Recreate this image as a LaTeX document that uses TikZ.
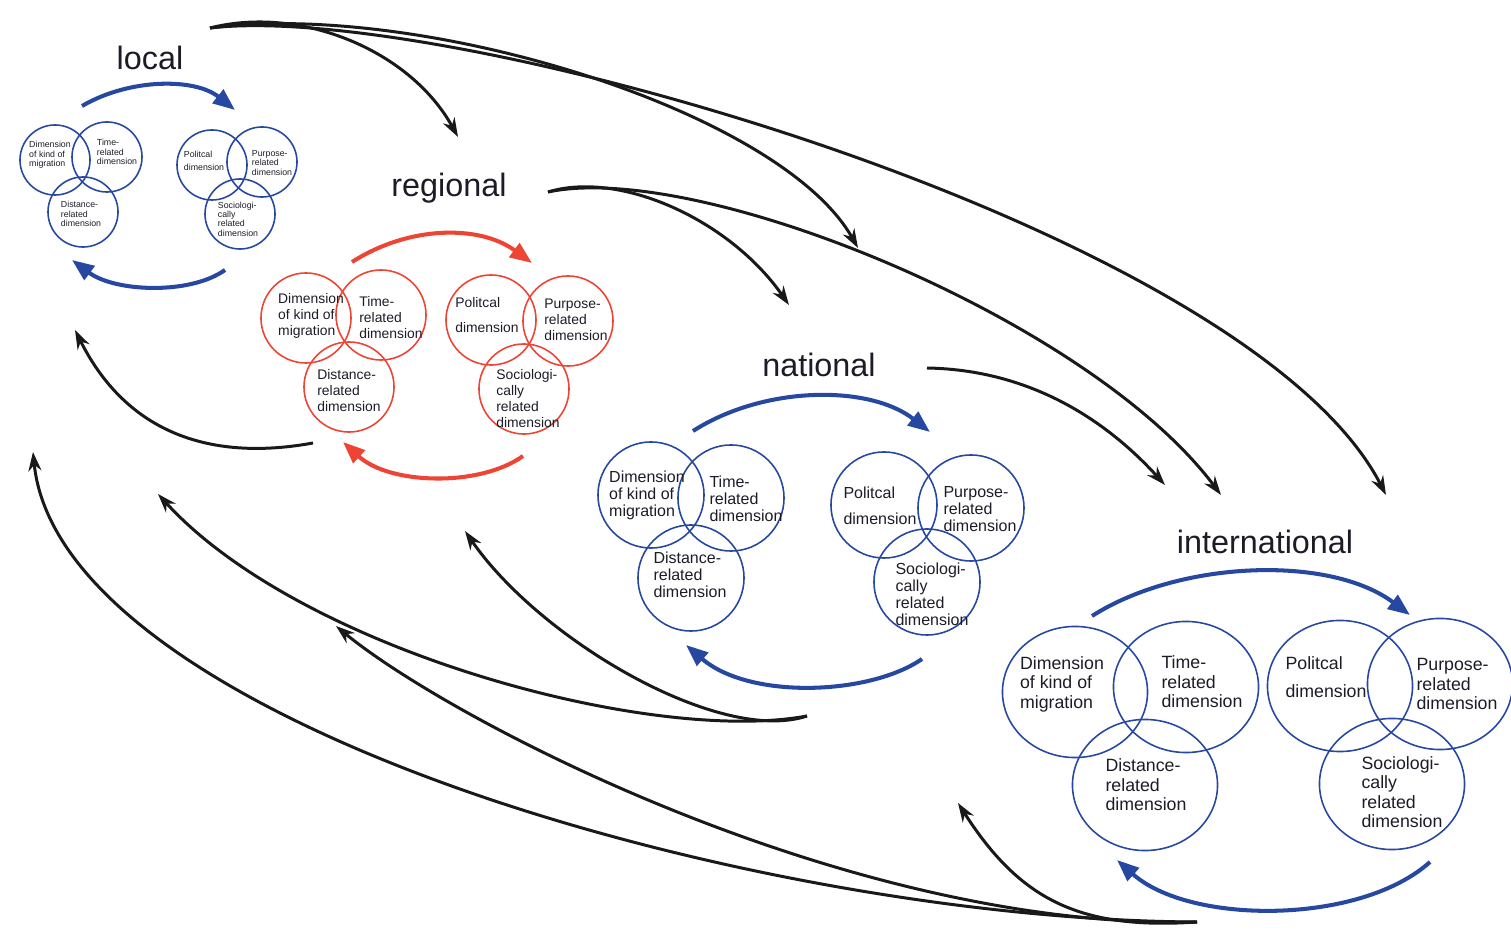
\documentclass[tikz,border=0pt]{standalone}
\usepackage{fontspec}
\setmainfont{Liberation Sans}
\usepackage{xcolor}
\usepackage{tikz}
\usetikzlibrary{shapes.geometric, arrows.meta, positioning}

\definecolor{vennblue}{RGB}{38,72,160}
\definecolor{vennred}{RGB}{238,68,52}
\definecolor{ink}{RGB}{28,28,40}

\begin{document}
\begin{tikzpicture}[
        x=0.01cm, y=-0.01cm,
        tier/.style={
            font=\fontsize{9.2}{11}\selectfont,
            text=ink,
            inner sep=0pt
        },
        ring/.style={
            ellipse,
            draw,
            line width=0.45pt,
            inner sep=0pt
        },
        ringloc/.style={ring, draw=vennblue, minimum width=0.70cm, minimum height=0.70cm},
        ringreg/.style={ring, draw=vennred, minimum width=0.90cm, minimum height=0.90cm},
        ringnat/.style={ring, draw=vennblue, minimum width=1.06cm, minimum height=1.06cm},
        ringint/.style={ring, draw=vennblue, minimum width=1.45cm, minimum height=1.31cm},
        dimtxt/.style={align=left, inner sep=0pt, text=ink},
        txtloc/.style={dimtxt, font=\fontsize{2.5}{2.65}\selectfont},
        txtreg/.style={dimtxt, font=\fontsize{3.95}{4.55}\selectfont},
        txtnat/.style={dimtxt, font=\fontsize{4.55}{4.85}\selectfont},
        txtint/.style={dimtxt, font=\fontsize{5.05}{5.55}\selectfont},
        turn/.style={
            line width=1.15pt,
            -{Triangle[length=0.22cm, width=0.17cm]}
        },
        link/.style={
            line width=0.85pt,
            black!90,
            -{Stealth[length=0.19cm, width=0.13cm]}
        }
    ]
        \useasboundingbox (0,0) rectangle (1511,946);

        % Level names
        \node[tier] (local) at (150,58) {local};
        \node[tier] (regional) at (449,188) {regional};
        \node[tier] (national) at (819,365) {national};
        \node[tier] (international) at (1265,542) {international};

        % Local
        \node[ringloc] (loc-kind) at (55,160) {};
        \node[ringloc] (loc-time) at (107,157) {};
        \node[ringloc] (loc-dist) at (83,212) {};
        \node[ringloc] (loc-pol) at (212,165) {};
        \node[ringloc] (loc-purp) at (262,162) {};
        \node[ringloc] (loc-soc) at (240,214) {};
        \node[txtloc] (loc-kind-t) at (50,155) {Dimension\\of kind of\\migration};
        \node[txtloc] (loc-time-t) at (117,152) {Time-\\related\\dimension};
        \node[txtloc] (loc-dist-t) at (81,214) {Distance-\\related\\dimension};
        \node[txtloc] (loc-pol-t) at (204,161) {Politcal\\[1.1pt]dimension};
        \node[txtloc] (loc-purp-t) at (272,163) {Purpose-\\related\\dimension};
        \node[txtloc] (loc-soc-t) at (238,219) {Sociologi-\\cally\\related\\dimension};

        % Regional
        \node[ringreg] (reg-kind) at (306,318) {};
        \node[ringreg] (reg-time) at (381,315) {};
        \node[ringreg] (reg-dist) at (349,387) {};
        \node[ringreg] (reg-pol) at (491,320) {};
        \node[ringreg] (reg-purp) at (568,321) {};
        \node[ringreg] (reg-soc) at (524,389) {};
        \node[txtreg] (reg-kind-t) at (311,316) {Dimension\\of kind of\\migration};
        \node[txtreg] (reg-time-t) at (391,318) {Time-\\related\\dimension};
        \node[txtreg] (reg-dist-t) at (349,391) {Distance-\\related\\dimension};
        \node[txtreg] (reg-pol-t) at (487,315) {Politcal\\[2.3pt]dimension};
        \node[txtreg] (reg-purp-t) at (576,320) {Purpose-\\related\\dimension};
        \node[txtreg] (reg-soc-t) at (528,399) {Sociologi-\\cally\\related\\dimension};

        % National
        \node[ringnat] (nat-kind) at (651,495) {};
        \node[ringnat] (nat-time) at (731,498) {};
        \node[ringnat] (nat-dist) at (691,578) {};
        \node[ringnat] (nat-pol) at (884,505) {};
        \node[ringnat] (nat-purp) at (971,508) {};
        \node[ringnat] (nat-soc) at (927,582) {};
        \node[txtnat] (nat-kind-t) at (647,495) {Dimension\\of kind of\\migration};
        \node[txtnat] (nat-time-t) at (746,499) {Time-\\related\\dimension};
        \node[txtnat] (nat-dist-t) at (690,575) {Distance-\\related\\dimension};
        \node[txtnat] (nat-pol-t) at (880,506) {Politcal\\[2.6pt]dimension};
        \node[txtnat] (nat-purp-t) at (980,509) {Purpose-\\related\\dimension};
        \node[txtnat] (nat-soc-t) at (932,594) {Sociologi-\\cally\\related\\dimension};

        % International
        \node[ringint] (int-kind) at (1075,692) {};
        \node[ringint] (int-time) at (1186,687) {};
        \node[ringint] (int-dist) at (1145,785) {};
        \node[ringint] (int-pol) at (1340,686) {};
        \node[ringint] (int-purp) at (1440,684) {};
        \node[ringint] (int-soc) at (1392,784) {};
        \node[txtint] (int-kind-t) at (1062,684) {Dimension\\of kind of\\migration};
        \node[txtint] (int-time-t) at (1202,682) {Time-\\related\\dimension};
        \node[txtint] (int-dist-t) at (1146,785) {Distance-\\related\\dimension};
        \node[txtint] (int-pol-t) at (1326,677) {Politcal\\[2.4pt]dimension};
        \node[txtint] (int-purp-t) at (1457,684) {Purpose-\\related\\dimension};
        \node[txtint] (int-soc-t) at (1402,792) {Sociologi-\\cally\\related\\dimension};

        % Cycle ends
        \coordinate (loc-a1) at (82,106);   \coordinate (loc-a2) at (235,110);
        \coordinate (loc-b1) at (225,270);  \coordinate (loc-b2) at (72,260);
        \coordinate (reg-a1) at (352,262);  \coordinate (reg-a2) at (532,263);
        \coordinate (reg-b1) at (523,456);  \coordinate (reg-b2) at (343,442);
        \coordinate (nat-a1) at (693,431);  \coordinate (nat-a2) at (930,432);
        \coordinate (nat-b1) at (922,659);  \coordinate (nat-b2) at (686,645);
        \coordinate (int-a1) at (1092,616); \coordinate (int-a2) at (1410,615);
        \coordinate (int-b1) at (1430,862); \coordinate (int-b2) at (1117,860);

        % Cycles
        \draw[turn, vennblue] (loc-a1) .. controls (130,78) and (195,78) .. (loc-a2);
        \draw[turn, vennblue] (loc-b1) .. controls (190,295) and (115,292) .. (loc-b2);
        \draw[turn, vennred] (reg-a1) .. controls (410,225) and (480,225) .. (reg-a2);
        \draw[turn, vennred] (reg-b1) .. controls (480,487) and (390,485) .. (reg-b2);
        \draw[turn, vennblue] (nat-a1) .. controls (765,385) and (870,385) .. (nat-a2);
        \draw[turn, vennblue] (nat-b1) .. controls (870,695) and (750,700) .. (nat-b2);
        \draw[turn, vennblue] (int-a1) .. controls (1180,560) and (1330,555) .. (int-a2);
        \draw[turn, vennblue] (int-b1) .. controls (1360,925) and (1190,925) .. (int-b2);

        % Link ends
        \coordinate (loc-out) at (210,28);
        \coordinate (reg-out) at (548,192);
        \coordinate (nat-out) at (927,368);
        \coordinate (int-back) at (1197,922);
        \coordinate (nat-back) at (807,716);
        \coordinate (reg-back) at (313,443);
        \coordinate (reg-in) at (458,137);
        \coordinate (nat-in-a) at (858,248);
        \coordinate (nat-in-b) at (789,305);
        \coordinate (int-in-a) at (1165,485);
        \coordinate (int-in-b) at (1221,495);
        \coordinate (int-in-c) at (1386,495);
        \coordinate (nat-ret) at (958,803);
        \coordinate (reg-ret-a) at (465,531);
        \coordinate (reg-ret-b) at (336,626);
        \coordinate (loc-ret-a) at (75,330);
        \coordinate (loc-ret-b) at (158,494);
        \coordinate (loc-ret-c) at (33,452);

        % Links outwards
        \draw[link] (loc-out) .. controls (300,5) and (410,50) .. (reg-in);
        \draw[link] (loc-out) .. controls (420,0) and (780,110) .. (nat-in-a);
        \draw[link] (loc-out) .. controls (450,0) and (1250,230) .. (int-in-c);
        \draw[link] (reg-out) .. controls (620,170) and (730,220) .. (nat-in-b);
        \draw[link] (reg-out) .. controls (700,160) and (1090,320) .. (int-in-b);
        \draw[link] (nat-out) .. controls (1040,370) and (1115,430) .. (int-in-a);

        % Links back
        \draw[link] (int-back) .. controls (1080,930) and (1020,900) .. (nat-ret);
        \draw[link] (int-back) .. controls (850,930) and (450,720) .. (reg-ret-b);
        \draw[link] (int-back) .. controls (750,920) and (60,720) .. (loc-ret-c);
        \draw[link] (nat-back) .. controls (720,745) and (540,640) .. (reg-ret-a);
        \draw[link] (nat-back) .. controls (650,745) and (300,650) .. (loc-ret-b);
        \draw[link] (reg-back) .. controls (220,460) and (130,440) .. (loc-ret-a);
\end{tikzpicture}
\end{document}
